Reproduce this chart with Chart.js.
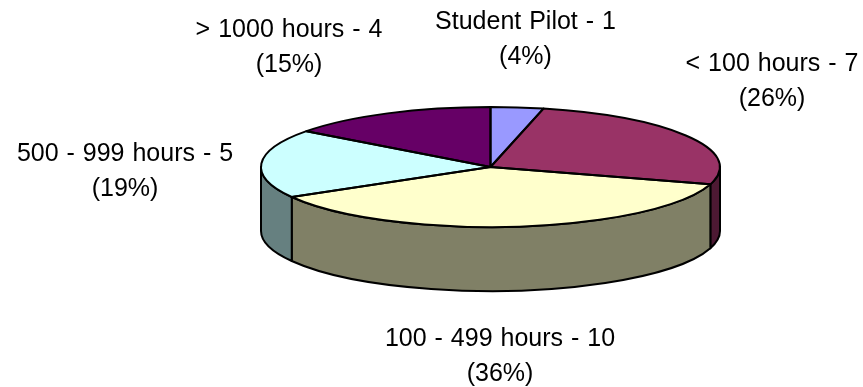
<!DOCTYPE html>
<html>
<head>
<meta charset="utf-8">
<title>Pilot experience</title>
<script src="https://cdn.jsdelivr.net/npm/chart.js@4/dist/chart.umd.js"></script>
<style>
  html, body { margin: 0; padding: 0; background: #fff; }
  #wrap { position: relative; width: 863px; height: 387px; }
</style>
</head>
<body>
<div id="wrap"><canvas id="myChart" width="863" height="387"></canvas></div>
<script>
const categories = ['Student Pilot', '< 100 hours', '100 - 499 hours', '500 - 999 hours', '> 1000 hours'];
const pilots = [1, 7, 10, 5, 4];
const percentLabels = ['(4%)', '(26%)', '(36%)', '(19%)', '(15%)'];
const topColors = ['#9999FF', '#993366', '#FFFFCC', '#CCFFFF', '#660066'];
const sideColors = ['#4D4D80', '#4D1933', '#808066', '#668080', '#330033'];

const RADIUS_X = 229.5;
const RADIUS_Y = 60;
const DEPTH = 64;
const LINE_WIDTH = 2;
const FONT = '25px "Liberation Sans", Arial, sans-serif';

// centre of each two line label
const labelSpots = [[525.5, 22], [772, 64], [500, 339], [125, 154], [289, 30]];

// squash the round pie into the top face of the disc
function squash(ctx, arc) {
  ctx.translate(arc.x, arc.y);
  ctx.scale(1, RADIUS_Y / RADIUS_X);
  ctx.translate(-arc.x, -arc.y);
}

const disc3d = {
  id: 'disc3d',
  beforeDatasetsDraw(chart) {
    const ctx = chart.ctx;
    const arcs = chart.getDatasetMeta(0).data;

    // side wall, only the part of each slice facing the viewer
    arcs.forEach((arc, i) => {
      const from = Math.max(arc.startAngle, 0);
      const to = Math.min(arc.endAngle, Math.PI);
      if (to <= from) return;
      ctx.save();
      ctx.beginPath();
      ctx.ellipse(arc.x, arc.y, RADIUS_X, RADIUS_Y, 0, from, to);
      ctx.ellipse(arc.x, arc.y + DEPTH, RADIUS_X, RADIUS_Y, 0, to, from, true);
      ctx.closePath();
      ctx.fillStyle = sideColors[i];
      ctx.fill();
      ctx.lineWidth = LINE_WIDTH;
      ctx.strokeStyle = '#000';
      ctx.lineJoin = 'round';
      ctx.stroke();
      ctx.restore();
    });

    ctx.save();
    squash(ctx, arcs[0]);
  },
  afterDatasetsDraw(chart) {
    const ctx = chart.ctx;
    ctx.restore();

    // outlines go on after the squash so the line keeps an even width
    chart.getDatasetMeta(0).data.forEach(arc => {
      ctx.save();
      ctx.beginPath();
      ctx.moveTo(arc.x, arc.y);
      ctx.ellipse(arc.x, arc.y, RADIUS_X, RADIUS_Y, 0, arc.startAngle, arc.endAngle);
      ctx.closePath();
      ctx.lineWidth = LINE_WIDTH;
      ctx.strokeStyle = '#000';
      ctx.lineJoin = 'round';
      ctx.stroke();
      ctx.restore();
    });

    // data labels
    ctx.save();
    ctx.font = FONT;
    ctx.wordSpacing = '1px';
    ctx.fillStyle = '#000';
    ctx.textAlign = 'center';
    ctx.textBaseline = 'middle';
    categories.forEach((name, i) => {
      const [x, y] = labelSpots[i];
      ctx.fillText(name + ' - ' + pilots[i], x, y);
      ctx.fillText(percentLabels[i], x, y + 35);
    });
    ctx.restore();
  }
};

new Chart(document.getElementById('myChart').getContext('2d'), {
  type: 'pie',
  data: {
    labels: categories,
    datasets: [{
      data: pilots,
      backgroundColor: topColors,
      borderWidth: 0,
      radius: RADIUS_X,
      clip: false
    }]
  },
  options: {
    responsive: false,
    animation: false,
    layout: { padding: { left: 118, right: 0, top: 0, bottom: 53 } },
    plugins: { legend: { display: false }, tooltip: { enabled: false } }
  },
  plugins: [disc3d]
});
</script>
</body>
</html>
